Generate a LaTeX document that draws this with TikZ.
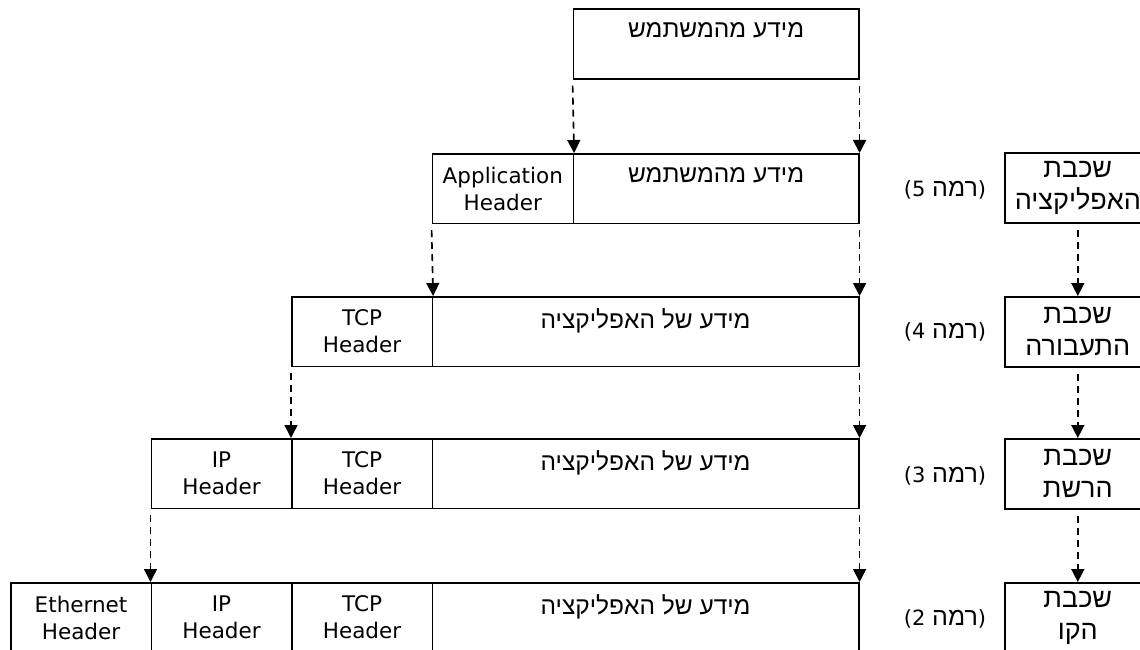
\documentclass[tikz,border=0pt]{standalone}
\usepackage{fontspec}
\setmainfont{DejaVu Sans}
\newfontfamily\heb[Script=Hebrew]{Liberation Sans}
\TeXXeTstate=1
\usetikzlibrary{arrows.meta}
\newcommand\hebdata{\heb\fontsize{24.5}{27}\selectfont}
\begin{document}
\begin{tikzpicture}[x=1pt,y=-1pt,
  cell/.style={draw=black, line width=1.6pt, inner sep=0pt, anchor=north west, align=center, minimum height=69.5pt, font=\fontsize{21.5}{27}\selectfont},
  layerbox/.style={cell, minimum width=146pt, minimum height=70pt, font=\heb\fontsize{27}{32}\selectfont},
  conn/.style={draw=black, line width=1.6pt, dash pattern=on 7pt off 5pt, -{Triangle[width=13pt,length=13pt]}, shorten <=6pt},
  lvl/.style={font=\fontsize{21}{24}\selectfont, inner sep=0pt}]
\useasboundingbox (0,0) rectangle (1140,650);
\clip (0,0) rectangle (1140,650);
% top
\node[cell, minimum width=285.5pt, minimum height=70pt] (top) at (572.5,8) {{\hebdata\beginR מידע מהמשתמש\endR}\\\mbox{}};
% row 5
\node[cell, minimum width=141pt] (h5a) at (431.5,153) {Application\\Header};
\node[cell, minimum width=285.5pt] (d5) at (572.5,153) {{\hebdata\beginR מידע מהמשתמש\endR}\\\mbox{}};
% row 4
\node[cell, minimum width=140.5pt] (h4t) at (291,296) {TCP\\Header};
\node[cell, minimum width=426.5pt] (d4) at (431.5,296) {{\hebdata\beginR מידע של האפליקציה\endR}\\\mbox{}};
% row 3
\node[cell, minimum width=140.5pt] (h3i) at (150.5,438) {IP\\Header};
\node[cell, minimum width=140.5pt] (h3t) at (291,438) {TCP\\Header};
\node[cell, minimum width=426.5pt] (d3) at (431.5,438) {{\hebdata\beginR מידע של האפליקציה\endR}\\\mbox{}};
% row 2
\node[cell, minimum width=140.5pt] (h2e) at (10,582) {Ethernet\\Header};
\node[cell, minimum width=140.5pt] (h2i) at (150.5,582) {IP\\Header};
\node[cell, minimum width=140.5pt] (h2t) at (291,582) {TCP\\Header};
\node[cell, minimum width=426.5pt] (d2) at (431.5,582) {{\hebdata\beginR מידע של האפליקציה\endR}\\\mbox{}};
% layer boxes
\node[layerbox] (s5) at (1004,152) {שכבת\\האפליקציה};
\node[layerbox] (s4) at (1004,296) {שכבת\\התעבורה};
\node[layerbox] (s3) at (1004,438) {שכבת\\הרשת};
\node[layerbox] (s2) at (1004,582) {שכבת\\הקו};
% level labels
\node[lvl] (l5) at (945,190) {(5 {\heb\fontsize{25}{27}\selectfont רמה})};
\node[lvl] (l4) at (945,332) {(4 {\heb\fontsize{25}{27}\selectfont רמה})};
\node[lvl] (l3) at (945,476) {(3 {\heb\fontsize{25}{27}\selectfont רמה})};
\node[lvl] (l2) at (945,619) {(2 {\heb\fontsize{25}{27}\selectfont רמה})};
% connectors
\draw[conn] (top.south west) -- (h5a.north east);
\draw[conn] (top.south east) -- (d5.north east);
\draw[conn] (h5a.south west) -- (h4t.north east);
\draw[conn] (d5.south east) -- (d4.north east);
\draw[conn] (h4t.south west) -- (h3t.north west);
\draw[conn] (d4.south east) -- (d3.north east);
\draw[conn] (h3i.south west) -- (h2i.north west);
\draw[conn] (d3.south east) -- (d2.north east);
\draw[conn] (s5.south) -- (s4.north);
\draw[conn] (s4.south) -- (s3.north);
\draw[conn] (s3.south) -- (s2.north);
\end{tikzpicture}
\end{document}
